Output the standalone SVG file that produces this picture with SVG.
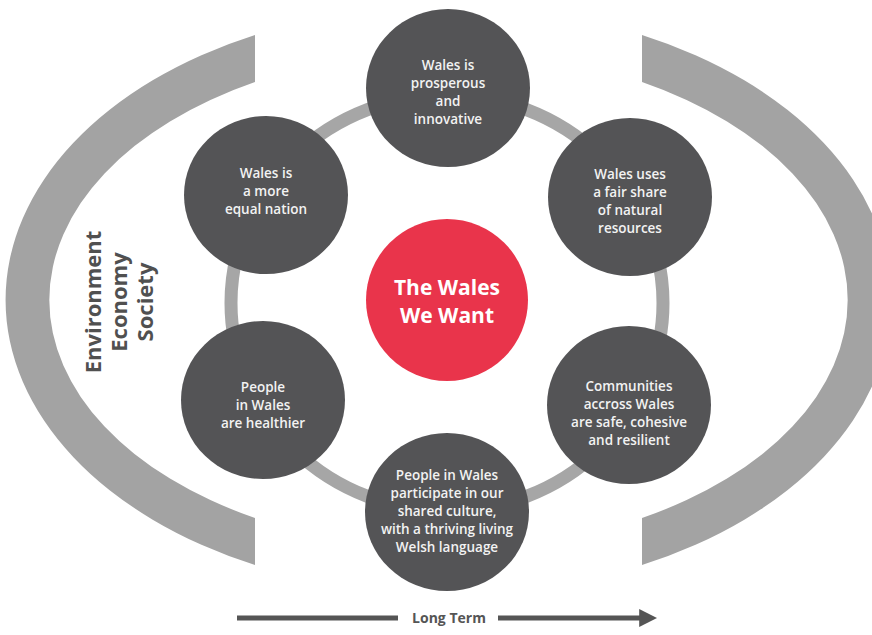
<svg xmlns="http://www.w3.org/2000/svg" width="872" height="635" viewBox="0 0 872 635">
<defs>
<style>
.arc{fill:#a3a3a3;}
.ring{fill:none;stroke:#a6a6a6;stroke-width:13;}
.node{fill:#545456;}
.core{fill:#e9344b;}
.nt{font-family:"Open Sans","Liberation Sans",sans-serif;font-weight:600;font-size:13.5px;fill:#f2f2f2;text-anchor:middle;}
.ct{font-family:"Open Sans","Liberation Sans",sans-serif;font-weight:700;font-size:21px;fill:#ffffff;text-anchor:middle;}
.side{font-family:"Open Sans","Liberation Sans",sans-serif;font-weight:700;font-size:22px;fill:#505050;text-anchor:middle;}
.lt{font-family:"Open Sans","Liberation Sans",sans-serif;font-weight:700;font-size:14px;fill:#555555;text-anchor:middle;}
.conn{stroke:#555555;stroke-width:5;fill:none;}
</style>
<marker id="head" viewBox="0 0 10 10" refX="1" refY="5" markerWidth="3.6" markerHeight="7" markerUnits="strokeWidth" orient="auto">
<path d="M0,0 L10,5 L0,10 Z" fill="#555555"/>
</marker>
</defs>
<rect width="872" height="635" fill="#ffffff"/>

<path class="arc" d="M255,35 A435,293 0 0 0 255,565 L255,518 A398,249 0 0 1 255,82 Z"/>
<path class="arc" d="M642,35 A435,293 0 0 1 642,565 L642,518 A398,249 0 0 0 642,82 Z"/>

<text class="side" transform="translate(101,302) rotate(-90)">Environment</text>
<text class="side" transform="translate(127,302) rotate(-90)">Economy</text>
<text class="side" transform="translate(153,302) rotate(-90)">Society</text>

<ellipse class="ring" cx="447" cy="303" rx="216" ry="208"/>

<g id="core">
<circle class="core" cx="447" cy="300" r="81"/>
<text class="ct" x="447" y="295">The Wales</text>
<text class="ct" x="447" y="323">We Want</text>
</g>

<g id="prosperous">
<ellipse class="node" cx="448" cy="88" rx="82" ry="79"/>
<text class="nt" x="448" y="70">Wales is</text>
<text class="nt" x="448" y="88">prosperous</text>
<text class="nt" x="448" y="106">and</text>
<text class="nt" x="448" y="124">innovative</text>
</g>

<g id="equal">
<ellipse class="node" cx="266" cy="195" rx="82" ry="79"/>
<text class="nt" x="266" y="178">Wales is</text>
<text class="nt" x="266" y="196">a more</text>
<text class="nt" x="266" y="214">equal nation</text>
</g>

<g id="resources">
<ellipse class="node" cx="630" cy="197" rx="82" ry="79"/>
<text class="nt" x="630" y="179">Wales uses</text>
<text class="nt" x="630" y="197">a fair share</text>
<text class="nt" x="630" y="215">of natural</text>
<text class="nt" x="630" y="233">resources</text>
</g>

<g id="healthier">
<ellipse class="node" cx="263" cy="400" rx="82" ry="79"/>
<text class="nt" x="263" y="392">People</text>
<text class="nt" x="263" y="410">in Wales</text>
<text class="nt" x="263" y="428">are healthier</text>
</g>

<g id="culture">
<ellipse class="node" cx="447" cy="512" rx="82" ry="79"/>
<text class="nt" x="447" y="480">People in Wales</text>
<text class="nt" x="447" y="498">participate in our</text>
<text class="nt" x="447" y="516">shared culture,</text>
<text class="nt" x="447" y="534">with a thriving living</text>
<text class="nt" x="447" y="552">Welsh language</text>
</g>

<g id="communities">
<ellipse class="node" cx="629" cy="405" rx="82" ry="79"/>
<text class="nt" x="629" y="391">Communities</text>
<text class="nt" x="629" y="409">accross Wales</text>
<text class="nt" x="629" y="427">are safe, cohesive</text>
<text class="nt" x="629" y="445">and resilient</text>
</g>

<g id="connectors">
<line class="conn" x1="237" y1="618" x2="398" y2="618"/>
<line class="conn" x1="498" y1="618" x2="641" y2="618" marker-end="url(#head)"/>
</g>
<g id="longterm">
<text class="lt" x="449" y="623">Long Term</text>
</g>
</svg>
